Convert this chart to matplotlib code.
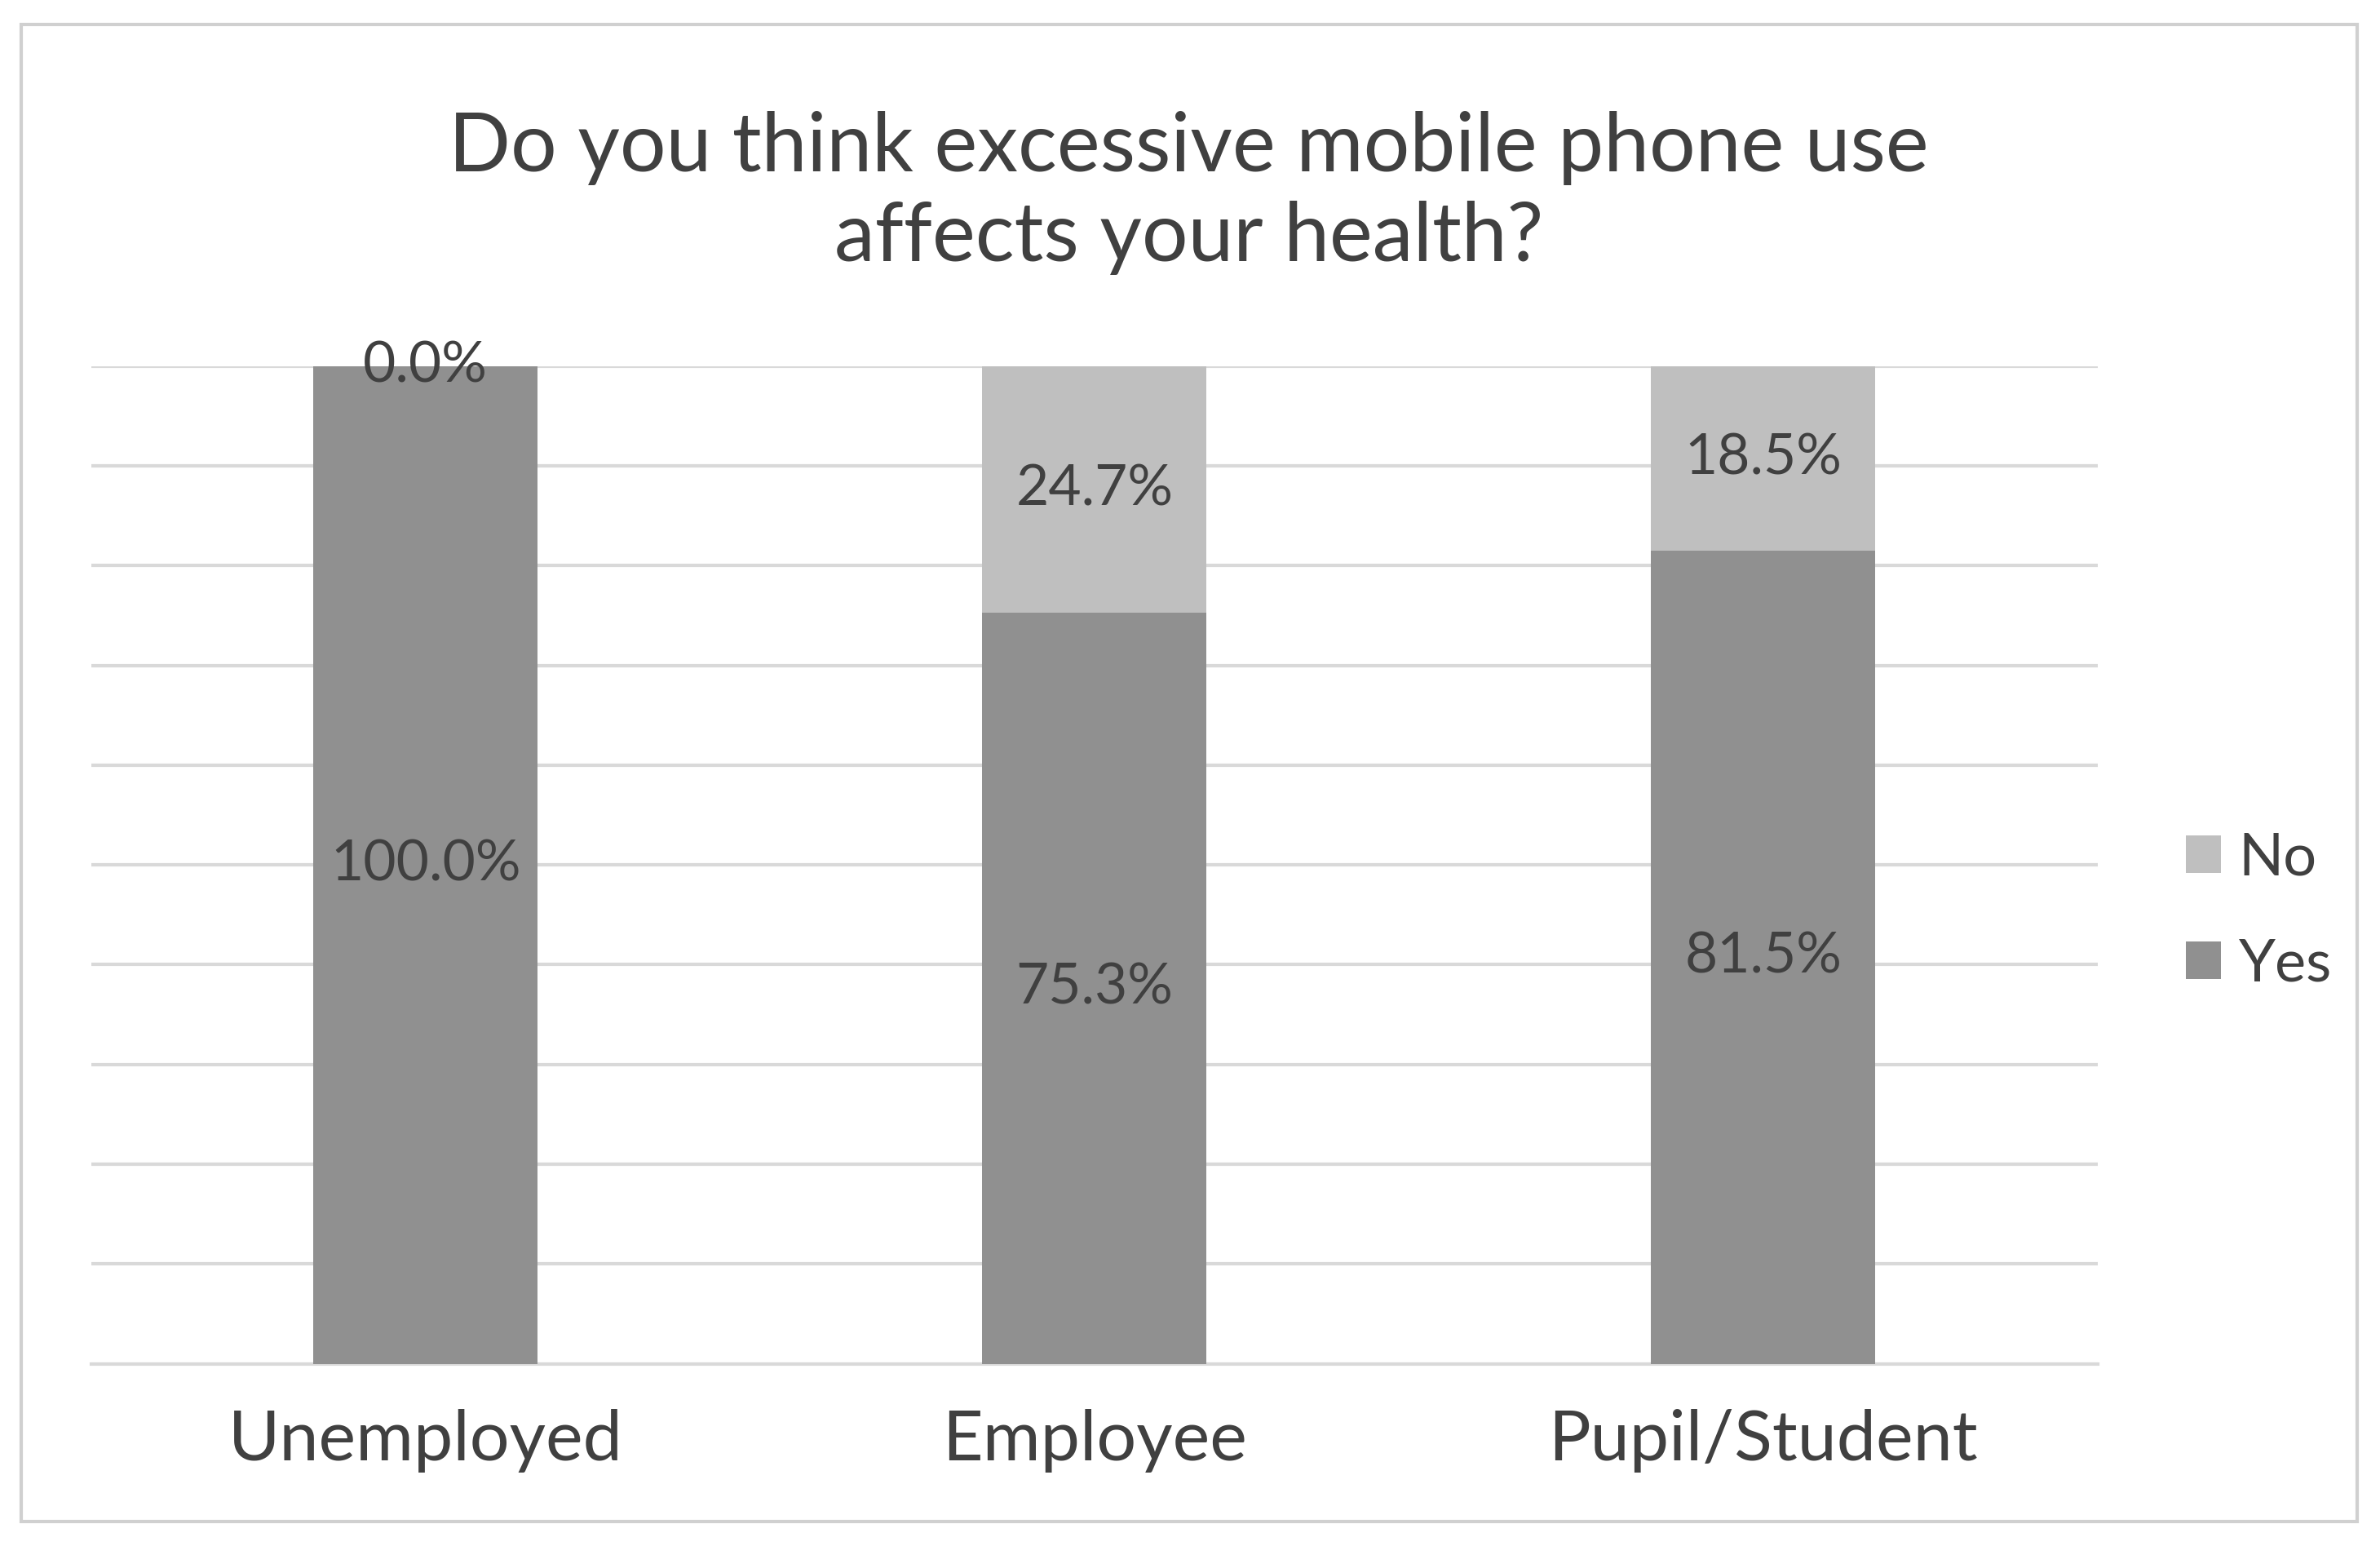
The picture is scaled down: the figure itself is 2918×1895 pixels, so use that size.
import matplotlib
matplotlib.use("Agg")
import matplotlib.pyplot as plt
from matplotlib.patches import Rectangle

categories = ["Unemployed", "Employee", "Pupil/Student"]
yes = [100.0, 75.3, 81.5]
no = [0.0, 24.7, 18.5]

plt.rcParams['font.family'] = ['Lato', 'DejaVu Sans']
tc = '#404040'
fig = plt.figure(figsize=(29.18, 18.95), dpi=100)
fig.patches.append(Rectangle((14/1568, 1-1002/1018), (1553-14)/1568, (1002-16)/1018,
                             transform=fig.transFigure, fill=False, ec='#d0d0d0', lw=3))
ax = fig.add_axes([60/1568, 1-898/1018, (1382-60)/1568, (898-241)/1018])
x = range(len(categories))
w = 0.335
ax.bar(x, yes, w, color='#909090', label='Yes', zorder=3)
ax.bar(x, no, w, bottom=yes, color='#bfbfbf', label='No', zorder=3)
for i in x:
    ax.text(i, yes[i]/2, f"{yes[i]:.1f}%", ha='center', va='center', fontsize=50, color=tc, zorder=4)
    ax.text(i, yes[i]+no[i]/2 if no[i] > 0 else 100, f"{no[i]:.1f}%", ha='center', va='center', fontsize=50, color=tc, zorder=4)
ax.set_xlim(-0.5, 2.5)
ax.set_ylim(0, 100)
ax.set_yticks(range(0, 101, 10))
ax.yaxis.grid(True, color='#d9d9d9', lw=3, zorder=0)
ax.set_yticklabels([])
ax.tick_params(axis='y', length=0)
ax.tick_params(axis='x', length=0, pad=40, labelsize=62, labelcolor=tc)
ax.set_xticks(list(x))
ax.set_xticklabels(categories)
for s in ['top', 'right', 'left']:
    ax.spines[s].set_visible(False)
ax.spines['bottom'].set_color('#d9d9d9')
ax.spines['bottom'].set_linewidth(3)
fig.text(783/1568, 1-127/1018, "Do you think excessive mobile phone use\naffects your health?",
         ha='center', va='center', fontsize=72, color=tc, linespacing=1.25)
h, l = ax.get_legend_handles_labels()
fig.legend(h[::-1], l[::-1], loc='center left', bbox_to_anchor=(1405/1568, 1-600/1018),
           frameon=False, fontsize=52, labelcolor=tc, handlelength=0.6, handleheight=0.6,
           handletextpad=0.3, labelspacing=0.9)
fig.savefig("out.png", dpi=100)
